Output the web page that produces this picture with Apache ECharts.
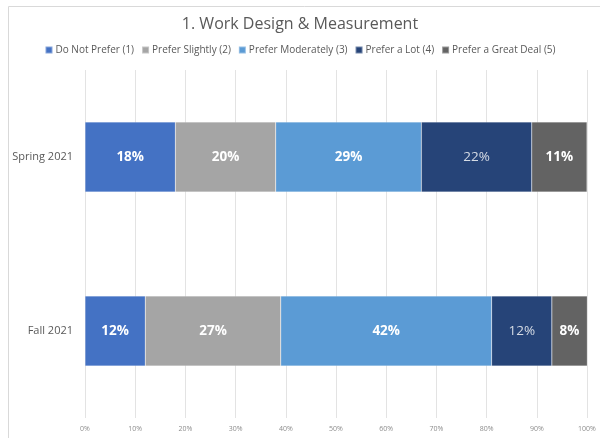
<!DOCTYPE html>
<html>
<head>
<meta charset="utf-8">
<script src="https://cdn.jsdelivr.net/npm/echarts@6/dist/echarts.min.js"></script>
<style>
  html, body { margin: 0; padding: 0; background: #fff; }
  #chart { width: 600px; height: 438px; }
</style>
</head>
<body>
<div id="chart"></div>
<script>
// Survey terms (top to bottom)
var terms = ['Spring 2021', 'Fall 2021'];

// Preference levels and their shares (%) per term
var levels = ['Do Not Prefer (1)', 'Prefer Slightly (2)', 'Prefer Moderately (3)', 'Prefer a Lot (4)', 'Prefer a Great Deal (5)'];
var doNotPrefer = [18, 12];
var preferSlightly = [20, 27];
var preferModerately = [29, 42];
var preferALot = [22, 12];
var preferGreatDeal = [11, 8];

var levelColors = ['#4472C4', '#A5A5A5', '#5B9BD5', '#264478', '#636363'];
var labelColors = ['#FFFFFF', '#FFFFFF', '#FFFFFF', '#D6DCE5', '#FFFFFF'];
var labelWeights = ['bold', 'bold', 'bold', 'normal', 'bold'];

var seriesData = [doNotPrefer, preferSlightly, preferModerately, preferALot, preferGreatDeal];

var chart = echarts.init(document.getElementById('chart'), null, { renderer: 'canvas' });

var series = levels.map(function (name, i) {
  return {
    name: name,
    type: 'bar',
    stack: 'total',
    barWidth: 70,
    data: seriesData[i],
    itemStyle: { color: levelColors[i], borderColor: 'rgba(255,255,255,0.35)', borderWidth: 0.5 },
    label: {
      show: true,
      position: 'inside',
      formatter: '{c}%',
      color: labelColors[i],
      fontWeight: labelWeights[i],
      fontSize: 13.5,
      fontFamily: 'Open Sans'
    },
    emphasis: { disabled: true }
  };
});

chart.setOption({
  animation: false,
  title: {
    text: '1. Work Design & Measurement',
    left: 'center',
    top: 11,
    textStyle: { color: '#595959', fontSize: 16, fontWeight: 'normal', fontFamily: 'Open Sans' }
  },
  legend: {
    data: levels,
    top: 40,
    left: 'center',
    itemWidth: 7,
    itemHeight: 7,
    itemGap: 7,
    icon: 'rect',
    textStyle: { color: '#595959', fontSize: 10, fontFamily: 'Open Sans', padding: [0, 0, 0, -2] }
  },
  graphic: [{
    type: 'rect',
    shape: { x: 8.5, y: 6.5, width: 700, height: 500 },
    style: { fill: 'none', stroke: '#D9D9D9', lineWidth: 1 },
    silent: true,
    z: -1
  }],
  grid: { left: 85, right: 13, top: 70, bottom: 20, containLabel: false },
  xAxis: {
    type: 'value',
    min: 0,
    max: 100,
    interval: 10,
    axisLine: { show: false },
    axisTick: { show: false },
    splitLine: { show: true, lineStyle: { color: '#E3E3E3', width: 1 } },
    axisLabel: { formatter: '{value}%', color: '#8C8C8C', fontSize: 7, margin: 7, fontFamily: 'Open Sans' }
  },
  yAxis: {
    type: 'category',
    data: terms,
    inverse: true,
    axisLine: { show: false },
    axisTick: { show: false },
    axisLabel: { color: '#595959', fontSize: 11, margin: 12, fontFamily: 'Open Sans' }
  },
  series: series
});
</script>
</body>
</html>
